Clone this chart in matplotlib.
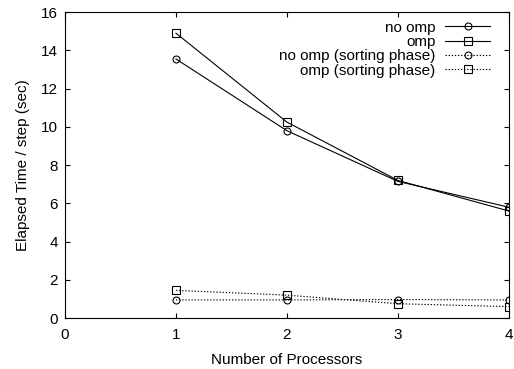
import matplotlib
matplotlib.use("Agg")
import matplotlib.pyplot as plt

plt.rcParams['font.family'] = ['Liberation Sans', 'DejaVu Sans']
font_size = 11

procs = [1, 2, 3, 4]
no_omp = [13.55, 9.8, 7.15, 5.8]
omp = [14.9, 10.25, 7.2, 5.6]
no_omp_sort = [0.95, 0.95, 0.97, 0.95]
omp_sort = [1.45, 1.2, 0.75, 0.6]

labels = ['no omp', 'omp', 'no omp (sorting phase)', 'omp (sorting phase)']
x_ticks = [0, 1, 2, 3, 4]
y_ticks = [0, 2, 4, 6, 8, 10, 12, 14, 16]

fig = plt.figure(figsize=(5.14, 3.69), dpi=100)
ax = fig.add_axes([0.1265, 0.138, 0.8635, 0.829])

dot = (0, (1.2, 1.6))
common = dict(color='black', lw=0.8, markerfacecolor='none', markeredgewidth=0.8)
ax.plot(procs, no_omp, marker='o', ms=5, ls='-', label=labels[0], **common)
ax.plot(procs, omp, marker='s', ms=5.5, ls='-', label=labels[1], **common)
ax.plot(procs, no_omp_sort, marker='o', ms=5, ls=dot, label=labels[2], **common)
ax.plot(procs, omp_sort, marker='s', ms=5.5, ls=dot, label=labels[3], **common)

ax.set_xlim(0, 4)
ax.set_ylim(0, 16)
ax.set_xticks(x_ticks)
ax.set_yticks(y_ticks)
ax.tick_params(direction='in', length=3.5, width=0.8, top=True, right=True,
               labelsize=font_size)
ax.tick_params(axis='x', pad=7)
ax.tick_params(axis='y', pad=5)
for s in ax.spines.values():
    s.set_linewidth(0.8)
ax.set_xlabel('Number of Processors', fontsize=font_size, labelpad=8)
ax.set_ylabel('Elapsed Time / step (sec)', fontsize=font_size, labelpad=8)

leg = ax.legend(loc='upper right', bbox_to_anchor=(0.957, 0.972),
                markerfirst=False, frameon=False, fontsize=font_size,
                handlelength=2.9, handletextpad=0.65, labelspacing=0.02,
                borderpad=0, borderaxespad=0)

plt.savefig('out.png', dpi=100)
